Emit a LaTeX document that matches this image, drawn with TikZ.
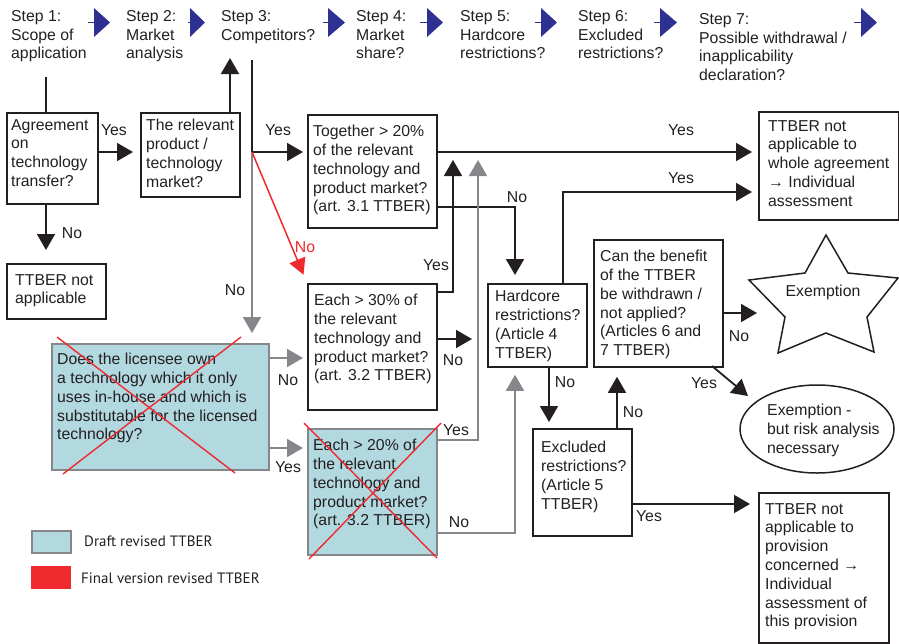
\documentclass[tikz,border=0pt]{standalone}
\usepackage{fontspec}
\setmainfont{Liberation Sans}
\newfontfamily\legendfont{PT Sans}
\usetikzlibrary{arrows.meta,shapes.geometric}
\definecolor{ink}{HTML}{231F20}
\definecolor{gline}{HTML}{85878A}
\definecolor{lblue}{HTML}{B2D8E0}
\definecolor{redc}{HTML}{EE2A2E}
\definecolor{navy}{HTML}{2E3192}
\newcommand{\mainsz}{\fontsize{15.8}{18.8}\selectfont}
\tikzset{
  box/.style={draw=ink, line width=1.8pt, inner sep=0pt, anchor=north west},
  dbox/.style={draw=gline, fill=lblue, line width=1.8pt, inner sep=0pt, anchor=north west},
  txt/.style={anchor=north west, inner sep=0pt, align=left, text=ink, font=\mainsz},
  lab/.style={anchor=base, inner sep=0pt, text=ink, font=\mainsz},
  conn/.style={draw=ink, line width=1.8pt},
  arr/.style={conn, -{Triangle[length=16pt,width=18pt]}},
  garr/.style={draw=gline, line width=1.8pt, -{Triangle[length=16pt,width=18pt]}},
  rarr/.style={draw=redc, line width=1.5pt, -{Triangle[length=16pt,width=17pt]}},
  cross/.style={draw=redc, line width=1.4pt},
}
\begin{document}
\begin{tikzpicture}[x=1pt,y=-1pt]
\useasboundingbox (0,0) rectangle (899,643);

% ---------- header ----------
\node[txt] (st1) at (11,10) {Step 1:\\Scope of\\application};
\node[txt] (st2) at (126,10) {Step 2:\\Market\\analysis};
\node[txt] (st3) at (221,10) {Step 3:\\Competitors?};
\node[txt] (st4) at (356,10) {Step 4:\\Market\\share?};
\node[txt] (st5) at (460,10) {Step 5:\\Hardcore\\restrictions?};
\node[txt] (st6) at (578,10) {Step 6:\\Excluded\\restrictions?};
\node[txt] (st7) at (699,13) {Step 7:\\Possible withdrawal /\\inapplicability\\declaration?};
\foreach \a/\b/\c in {88/94/110, 188/190/205, 323/328/345, 420/427/443, 535/541/557, 654/660/677, 854/861/877}{
  \draw[navy, line width=1.2pt] (\a,22.5) -- (\b+1,22.5);
  \fill[navy] (\b,8) -- (\c,22.5) -- (\b,37) -- cycle;
}

% ---------- boxes ----------
\node[box, minimum width=91pt, minimum height=91pt] (A) at (6,112) {};
\node[txt] (At) at (11,119) {Agreement\\on\\technology\\transfer?};
\node[box, minimum width=99pt, minimum height=84pt] (B) at (140,112) {};
\node[txt] (Bt) at (146,119) {The relevant\\product /\\technology\\market?};
\node[box, minimum width=129pt, minimum height=113pt] (C) at (307,114) {};
\node[txt] (Ct) at (313,125) {Together > 20\%\\of the relevant\\technology and\\product market?\\(art. 3.1 TTBER)};
\node[box, minimum width=129pt, minimum height=126pt] (D) at (307,283) {};
\node[txt] (Dt) at (314,294) {Each > 30\% of\\the relevant\\technology and\\product market?\\(art. 3.2 TTBER)};
\node[box, minimum width=99pt, minimum height=83pt] (E) at (487,283) {};
\node[txt] (Et) at (495,290) {Hardcore\\restrictions?\\(Article 4\\TTBER)};
\node[box, minimum width=99pt, minimum height=107pt] (F) at (532,428) {};
\node[txt] (Ft) at (541,441) {Excluded\\restrictions?\\(Article 5\\TTBER)};
\node[box, minimum width=129pt, minimum height=127pt] (G) at (593,239) {};
\node[txt] (Gt) at (600,250) {Can the benefit\\of the TTBER\\be withdrawn /\\not applied?\\(Articles 6 and\\7 TTBER)};
\node[box, minimum width=140pt, minimum height=108pt] (I) at (758,111) {};
\node[txt] (It) at (768,120) {TTBER not\\applicable to\\whole agreement\\→ Individual\\assessment};
\node[box, minimum width=130pt, minimum height=150pt] (J) at (758,492) {};
\node[txt] (Jt) at (765,503) {TTBER not\\applicable to\\provision\\concerned →\\Individual\\assessment of\\this provision};
\node[box, minimum width=99pt, minimum height=55pt] (K) at (6,263) {};
\node[txt] (Kt) at (15,274) {TTBER not\\applicable};
\node[dbox, minimum width=217pt, minimum height=126pt] (L) at (51,343) {};
\node[txt] (Lt) at (57,353) {Does the licensee own\\a technology which it only\\uses in-house and which is\\substitutable for the licensed\\technology?};
\node[dbox, minimum width=129pt, minimum height=126pt] (M) at (307,428) {};
\node[txt] (Mt) at (313,439) {Each > 20\% of\\the relevant\\technology and\\product market?\\(art. 3.2 TTBER)};

% star and ellipse
\draw[ink, line width=1.5pt] (826,235) -- (848,273) -- (898,278) -- (867,317) -- (874,352) -- (826,333) -- (778,353) -- (785,317) -- (749,280) -- (805,273) -- cycle;
\node[anchor=center, inner sep=0pt, text=ink, font=\mainsz] (S) at (823,292) {Exemption};
\node[draw=ink, line width=1.5pt, ellipse, minimum width=154pt, minimum height=88pt, inner sep=0pt] (H) at (817,429) {};
\node[txt] (Ht) at (767,404) {Exemption -\\but risk analysis\\necessary};

% ---------- helper coordinates ----------
\coordinate (s1) at (46,77);
\coordinate (bu) at (230,58);
\coordinate (s3) at (252,60);
\coordinate (br) at (252,152);
\coordinate (ce) at (515,207);
\coordinate (yD) at (0,292);
\coordinate (dc) at (453,160);
\coordinate (yM) at (0,440);
\coordinate (mc) at (478,160);
\coordinate (yDE) at (0,339);
\coordinate (ei) at (563,192);
\coordinate (ef) at (549,0);
\coordinate (me) at (515,533);
\coordinate (fg) at (617,0);
\coordinate (yFJ) at (0,504);
\coordinate (gs) at (757,313);
\coordinate (gh1) at (712,366);
\coordinate (gh2) at (748,396);
\coordinate (yLD) at (0,358);
\coordinate (yLM) at (0,448);

% ---------- connectors ----------
\draw[conn] (s1) -- (s1 |- A.north);
\draw[arr, shorten >=7pt] (A.east |- br) -- (B.west |- br);
\draw[arr] (bu |- B.north) -- (bu);
\draw[conn] (s3) -- (br);
\draw[garr, shorten >=10pt] (br) -- (br |- L.north);
\draw[arr, shorten >=4pt] (br) -- (br -| C.west);
\draw[rarr, shorten >=9pt] (br) -- (D.north west);
\draw[arr, shorten >=6pt] (C.east |- br) -- (I.west |- br);
\draw[arr, shorten >=8pt] (C.east |- ce) -| (ce |- E.north);
\draw[arr] (D.east |- yD) -| (dc);
\draw[garr] (M.east |- yM) -| (mc);
\draw[arr, shorten >=15pt] (D.east |- yDE) -- (E.west |- yDE);
\draw[arr, shorten >=6pt] (ei |- E.north) |- (I.west |- ei);
\draw[arr, shorten >=6pt] (ef |- E.south) -- (ef |- F.north);
\draw[garr, shorten >=7pt] (M.east |- me) -| (me |- E.south);
\draw[arr, shorten >=9pt] (fg |- F.north) -- (fg |- G.south);
\draw[arr, shorten >=8pt] (F.east |- yFJ) -- (J.west |- yFJ);
\draw[arr] (G.east |- gs) -- (gs);
\draw[arr] (gh1) -- (gh2);
\draw[arr, shorten >=13pt] (s1 |- A.south) -- (s1 |- K.north);
\draw[garr, shorten >=4pt] (L.east |- yLD) -- (D.west |- yLD);
\draw[garr, shorten >=4pt] (L.east |- yLM) -- (M.west |- yLM);

% ---------- labels ----------
\node[lab] (l1) at (114,135) {Yes};
\node[lab] (l2) at (72,238) {No};
\node[lab] (l3) at (278,135) {Yes};
\node[lab, text=redc] (l4) at (305,252) {No};
\node[lab] (l5) at (235,295) {No};
\node[lab] (l6) at (681,135) {Yes};
\node[lab] (l7) at (681,183) {Yes};
\node[lab] (l8) at (517,202) {No};
\node[lab] (l9) at (436,270) {Yes};
\node[lab] (l10) at (453,365) {No};
\node[lab] (l11) at (288,385) {No};
\node[lab] (l12) at (456,435) {Yes};
\node[lab] (l13) at (288,472) {Yes};
\node[lab] (l14) at (459,527) {No};
\node[lab] (l15) at (565,387) {No};
\node[lab] (l16) at (633,417) {No};
\node[lab] (l17) at (704,388) {Yes};
\node[lab] (l18) at (739,341) {No};
\node[lab] (l19) at (649,521) {Yes};

% ---------- red crosses ----------
\draw[cross] (57,337) -- (235,473);
\draw[cross] (241,337) -- (63,474);
\draw[cross] (304,423) -- (437,558);
\draw[cross] (441,423) -- (309,559);

% ---------- legend ----------
\node[draw=gline, fill=lblue, line width=1.5pt, minimum width=39pt, minimum height=22pt, inner sep=0pt, anchor=north west] (lg1) at (31,530) {};
\node[anchor=west, inner sep=0pt, text=ink, font=\legendfont\fontsize{15}{18}\selectfont] (lg1t) at (84,541) {Draft revised TTBER};
\node[fill=redc, minimum width=40pt, minimum height=23pt, inner sep=0pt, anchor=north west] (lg2) at (31,566) {};
\node[anchor=west, inner sep=0pt, text=ink, font=\legendfont\fontsize{15}{18}\selectfont] (lg2t) at (81,578) {Final version revised TTBER};
\end{tikzpicture}
\end{document}
